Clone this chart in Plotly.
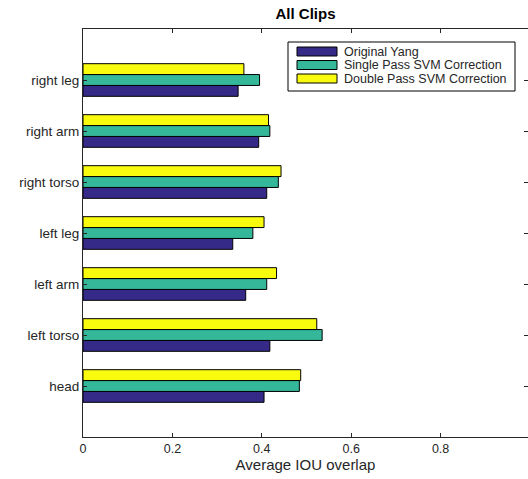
import plotly.graph_objects as go

categories = ["head", "left torso", "left arm", "left leg", "right torso", "right arm", "right leg"]
original_yang = [0.405, 0.418, 0.364, 0.335, 0.411, 0.393, 0.347]
single_pass = [0.484, 0.535, 0.411, 0.380, 0.437, 0.418, 0.395]
double_pass = [0.487, 0.523, 0.433, 0.405, 0.443, 0.415, 0.360]
series_names = ["Original Yang", "Single Pass SVM Correction", "Double Pass SVM Correction"]
colors = ["#352a87", "#35b79a", "#f9fb0e"]
x_tick_vals = [0, 0.2, 0.4, 0.6, 0.8, 1.0]
x_tick_text = ["0", "0.2", "0.4", "0.6", "0.8", "1"]

W, H = 528, 479
ML, MR, MT, MB = 83, 0, 29, 42
PW, PH = W - ML - MR, H - MT - MB

fig = go.Figure()
for name, vals, col in zip(series_names, [original_yang, single_pass, double_pass], colors):
    fig.add_trace(go.Bar(
        y=list(range(1, len(categories) + 1)), x=vals, name=name, orientation="h",
        marker=dict(color=col, line=dict(color="#000000", width=1)),
        showlegend=False,
    ))

axis_col = "#262626"


def px(X):
    return (X - ML) / PW


def py(Y):
    return 1 - (Y - MT) / PH


# MATLAB-style legend box (decoration; entry texts are real text)
shapes = [dict(type="rect", xref="paper", yref="paper", x0=px(288), x1=px(515), y0=py(91), y1=py(42),
               line=dict(color="#000000", width=1), fillcolor="white", layer="above")]
annotations = []
for i, (name, col) in enumerate(zip(series_names, colors)):
    top = 47 + i * 13.5
    shapes.append(dict(type="rect", xref="paper", yref="paper", x0=px(297), x1=px(337),
                       y0=py(top + 9), y1=py(top), line=dict(color="#000000", width=1),
                       fillcolor=col, layer="above"))
    annotations.append(dict(text=name, xref="paper", yref="paper", x=px(342), y=py(top + 4.5),
                            xanchor="left", yanchor="middle", showarrow=False,
                            font=dict(size=12.5, color=axis_col)))

fig.update_layout(
    width=W, height=H,
    margin=dict(l=ML, r=MR, t=MT, b=MB),
    plot_bgcolor="white", paper_bgcolor="white",
    barmode="group", bargap=0.36, bargroupgap=0,
    font=dict(family="Liberation Sans, Arial, sans-serif", size=12, color=axis_col),
    title=dict(text="<b>All Clips</b>", x=305.5 / W, xanchor="center", y=1 - 14 / H, yanchor="middle",
               font=dict(size=15, color="#000000")),
    showlegend=False,
    shapes=shapes,
    annotations=annotations,
    xaxis=dict(range=[0, PW / 447.0], tickvals=x_tick_vals, ticktext=x_tick_text,
               showline=True, linecolor=axis_col, linewidth=1, mirror="ticks",
               ticks="inside", ticklen=4, tickcolor=axis_col, showgrid=False, zeroline=False,
               tickfont=dict(size=12.5),
               title=dict(text="Average IOU overlap", font=dict(size=15, color=axis_col), standoff=4)),
    yaxis=dict(range=[0, 8], tickvals=list(range(1, len(categories) + 1)), ticktext=categories,
               showline=True, linecolor=axis_col, linewidth=1, mirror="ticks",
               ticks="inside", ticklen=4, tickcolor=axis_col, showgrid=False, zeroline=False,
               tickfont=dict(size=13.5)),
)

fig.write_html("out.html", config={"displayModeBar": False},
               post_script="document.body.style.margin='0';document.body.style.overflow='hidden';")
